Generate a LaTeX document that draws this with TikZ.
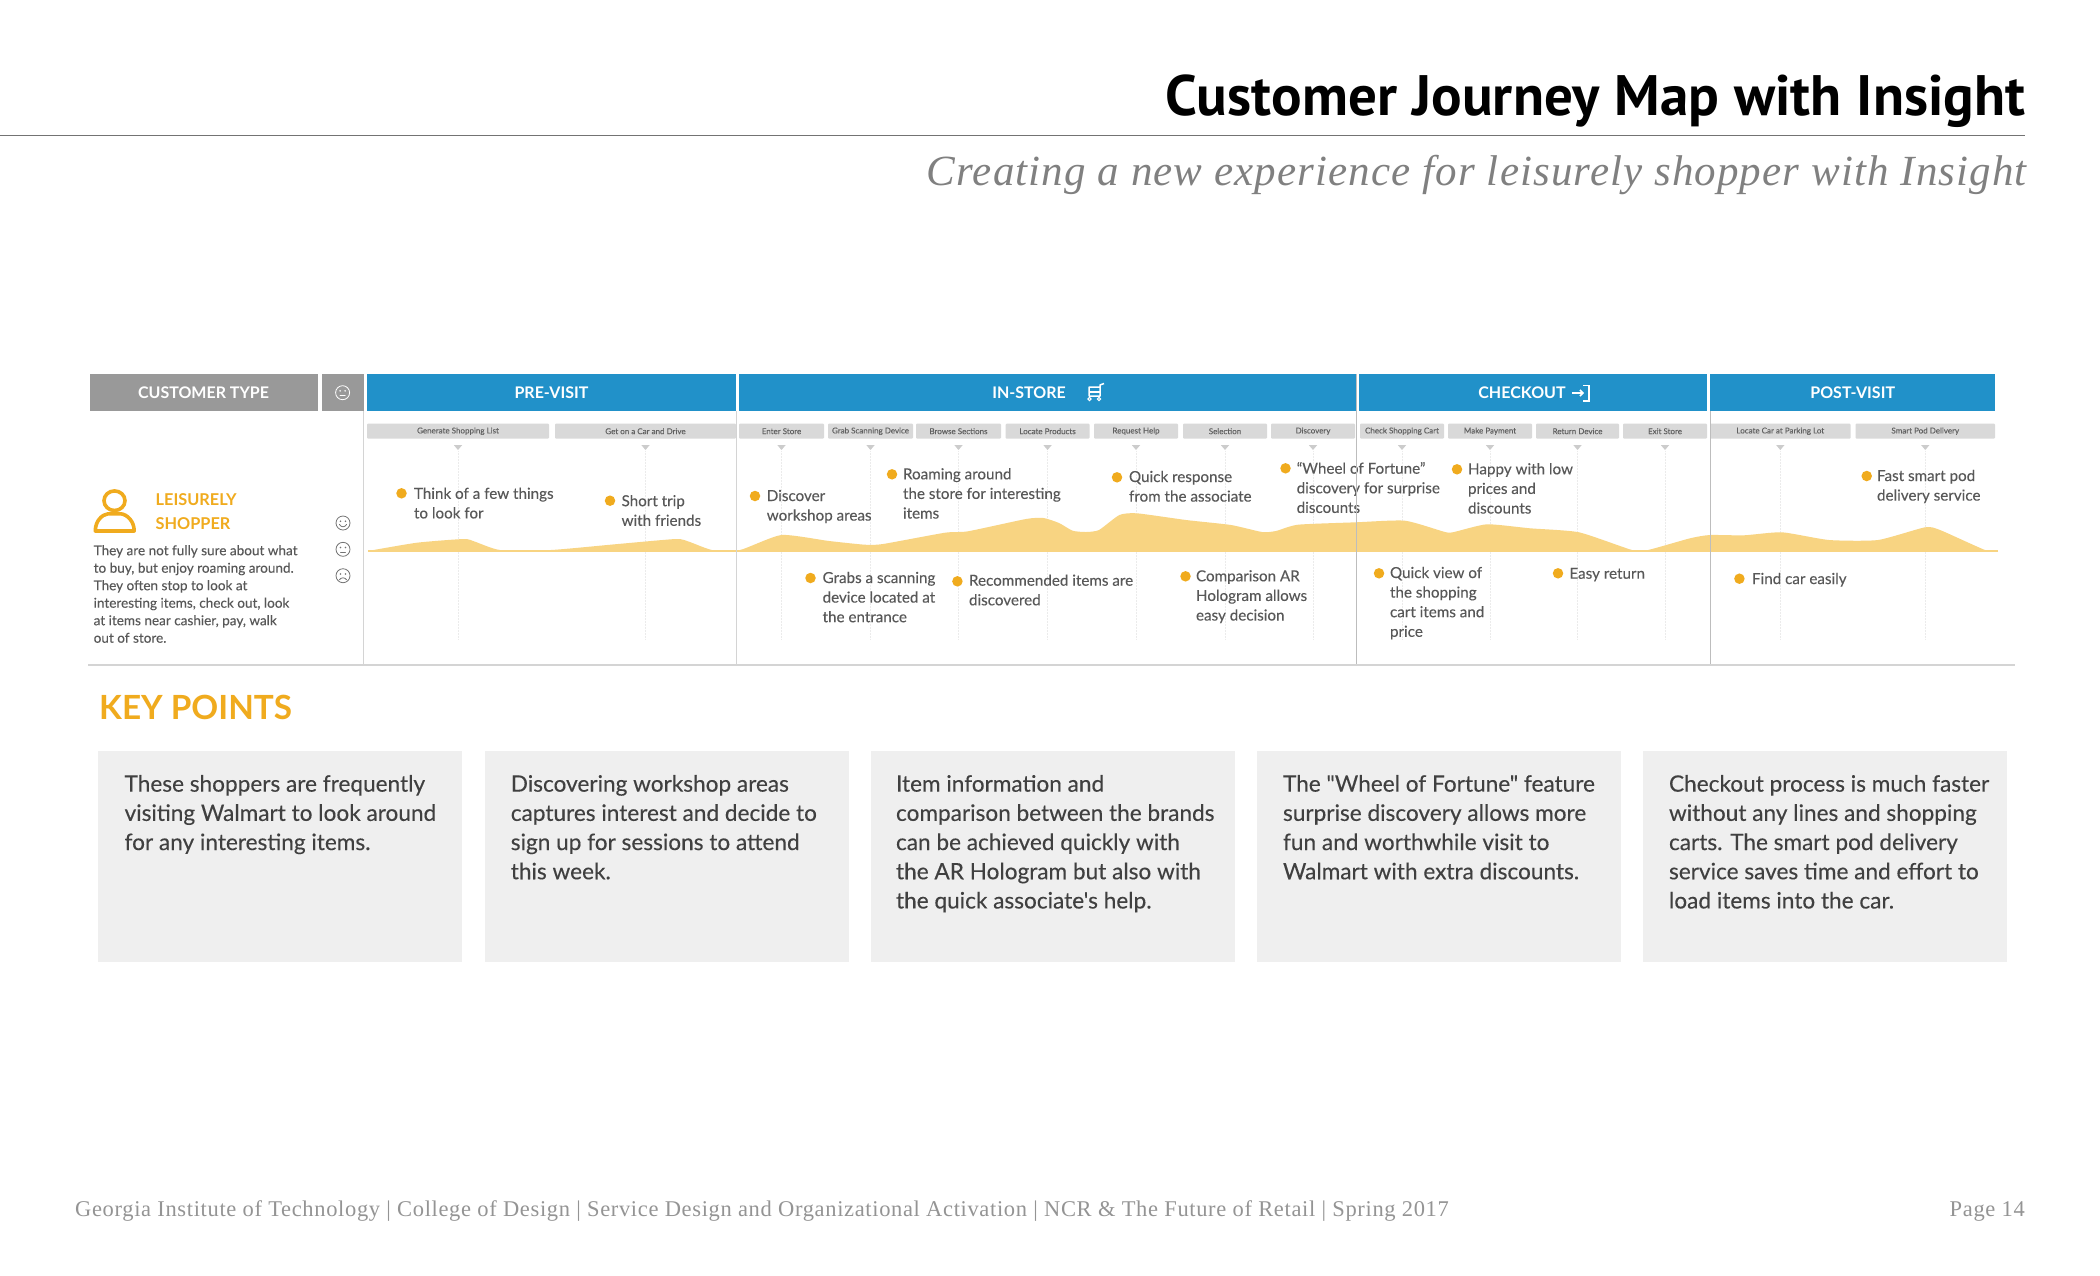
\documentclass[tikz,border=0pt]{standalone}
\usepackage{fontspec}
\usetikzlibrary{arrows.meta}
\setmainfont{Lato}
\newfontfamily\titlefont[LetterSpace=0.3]{PT Sans}
\newfontfamily\subfont[LetterSpace=2.6]{Liberation Serif}
\newfontfamily\footfont[LetterSpace=2.9]{Liberation Serif}
\newfontfamily\keyfont[FakeBold=0.25]{Lato}
\newfontfamily\itemfont[FakeBold=0.15]{Lato}
\newfontfamily\stepfont[FakeBold=0.2]{Lato}
\definecolor{jblue}{HTML}{2191C9}
\definecolor{jgrey}{HTML}{999999}
\definecolor{jstep}{HTML}{D9D9D9}
\definecolor{jorange}{HTML}{F0AB1E}
\definecolor{jtext}{HTML}{585858}
\definecolor{jcurve}{HTML}{F8D482}
\definecolor{jbox}{HTML}{EFEFEF}
\definecolor{jline}{HTML}{D4D4D4}
\definecolor{jlinedark}{HTML}{BDBDBD}
\tikzset{
  x=1pt,y=-1pt,
  band/.style={rectangle,inner sep=0,outer sep=0,text=white,font=\fontsize{16}{18}\selectfont\bfseries},
  stepbox/.style={rectangle,rounded corners=1pt,fill=jstep,inner sep=0,outer sep=0,text=black!62,font=\stepfont\fontsize{8}{9}\selectfont},
  jdot/.style={circle,fill=jorange,inner sep=0,minimum size=10.5pt},
  itemtext/.style={anchor=north west,inner sep=0,outer sep=0,align=left,text=jtext,font=\itemfont\fontsize{15.2}{19.6}\selectfont},
  keybox/.style={rectangle,fill=jbox,inner sep=0,outer sep=0,anchor=north west,minimum height=211pt,minimum width=364pt},
  keytext/.style={anchor=north west,inner sep=0,outer sep=0,align=left,text=black!75,font=\keyfont\fontsize{22.6}{29.2}\selectfont},
  face/.style={line width=.8pt,line cap=round},
}
% step box with its triangle and dotted guide
\newcommand{\jstep}[4]{%
  \pgfmathsetmacro{\jc}{(#2+#3)/2}\pgfmathsetmacro{\jw}{#3-#2}%
  \node[stepbox,minimum width=\jw pt,minimum height=15pt] (#1) at (\jc,431.2) {#4};
  \coordinate (#1t) at (\jc,445);
  \coordinate (#1e) at (\jc,640);
  \fill[black!20] ([xshift=-4.2pt]#1t) -- ([xshift=4.2pt]#1t) -- ([yshift=-5pt]#1t) -- cycle;
  \draw[black!8,densely dotted,line width=.5pt] ([yshift=-6pt]#1t) -- (#1e);
}
% item: name, bullet x,y, text x, baseline, text
\newcommand{\jitem}[6]{%
  \node[jdot] (#1d) at (#2,#3) {};
  \node[itemtext] (#1) at (#4,#5-12) {\rule{0pt}{12pt}#6};
}
% key box: name, x, text x, text
\newcommand{\jkey}[4]{%
  \node[keybox] (#1) at (#2,751) {};
  \node[keytext] (#1t) at (#3,775) {\rule{0pt}{16pt}#4};
}
\newcommand{\jface}[4]{%
  \begin{scope}[shift={(#1,#2)},#3,face]
    \draw (0,0) circle (7pt);
    \fill (-2.5,-1.8) circle (.9pt) (2.5,-1.8) circle (.9pt);
    \draw #4;
  \end{scope}
}
\begin{document}
\begin{tikzpicture}
\useasboundingbox (0,0) rectangle (2100,1275);
\fill[white] (0,0) rectangle (2100,1275);
% title
\node[anchor=base east,inner sep=0,font=\titlefont\fontsize{57}{60}\selectfont\bfseries] (title) at (2026,115) {Customer Journey Map with Insight};
\coordinate (ruleL) at (0,135.3); \coordinate (ruleR) at (2025,135.3);
\draw[black!55,line width=1.5pt] (ruleL) -- (ruleR);
\node[anchor=base east,inner sep=0,text=black!50,font=\subfont\fontsize{43}{46}\selectfont\itshape] (subtitle) at (2027,185) {Creating a new experience for leisurely shopper with Insight};
% header bands
\node[band,fill=jgrey,anchor=north west,minimum width=228pt,minimum height=37pt] (ctype) at (89.5,374) {CUSTOMER TYPE};
\node[band,fill=jgrey,anchor=north west,minimum width=41.6pt,minimum height=37pt] (cface) at (322,374) {};
\node[band,fill=jblue,anchor=north west,minimum width=369pt,minimum height=37pt] (pre) at (367,374) {PRE-VISIT};
\node[band,fill=jblue,anchor=north west,minimum width=617.5pt,minimum height=37pt] (ins) at (739,374) {};
\node[band] (inslabel) at (1029,392.5) {IN-STORE};
\node[band,fill=jblue,anchor=north west,minimum width=348pt,minimum height=37pt] (chk) at (1359,374) {};
\node[band] (chklabel) at (1522,392.5) {CHECKOUT};
\node[band,fill=jblue,anchor=north west,minimum width=284.6pt,minimum height=37pt] (post) at (1710.4,374) {POST-VISIT};
\jface{342.6}{392.7}{white}{(-2.5,2.8) -- (2.5,2.8)}
% cart icon
\draw[white,line width=1.5pt,line join=round] (1104,383.5) -- (1100,385) -- (1100,396) -- (1089,396) -- (1089,387) -- (1100,387);
\draw[white,line width=1.2pt] (1089,392) -- (1100,392);
\draw[white,line width=1.1pt] (1089.5,399) circle (1.6pt) (1099,399) circle (1.6pt);
% exit icon
\draw[white,line width=1.5pt] (1583,385.5) -- (1589,385.5) -- (1589,401) -- (1583,401);
\draw[white,line width=1.5pt,-{Straight Barb[length=3pt,width=6pt]}] (1572,393) -- (1584,393);
% steps
\jstep{s1}{367}{549}{Generate Shopping List}
\jstep{s2}{555}{736}{Get on a Car and Drive}
\jstep{s3}{739}{824}{Enter Store}
\jstep{s4}{828}{913}{Grab Scanning Device}
\jstep{s5}{916}{1001}{Browse Sections}
\jstep{s6}{1005.6}{1089.5}{Locate Products}
\jstep{s7}{1094}{1178}{Request Help}
\jstep{s8}{1183}{1267}{Selection}
\jstep{s9}{1271}{1355}{Discovery}
\jstep{s10}{1360}{1444}{Check Shopping Cart}
\jstep{s11}{1448}{1532}{Make Payment}
\jstep{s12}{1536}{1619}{Return Device}
\jstep{s13}{1623}{1707}{Exit Store}
\jstep{s14}{1710}{1850.6}{Locate Car at Parking Lot}
\jstep{s15}{1855.5}{1995}{Smart Pod Delivery}
% emotion curve
\fill[jcurve] plot[smooth,tension=.35] coordinates {(368,551) (417,542.7) (464,539) (475,541.7) (500,550) (551,550) (618,544) (676,539) (689,541.7) (712,550) (740,550) (781.5,535) (829,541) (865,544.7) (883,544) (945,532.7) (968,531.3) (1026,519) (1043.5,518) (1059,523) (1072.6,530.7) (1086,532) (1099,530) (1119.4,515) (1137,513.3) (1186,520) (1231,525) (1262,532) (1276,531) (1298,524.7) (1356,522.3) (1405,520.7) (1445,532) (1454,532) (1487,524.3) (1530,528.3) (1579,532.3) (1632,550) (1648,550) (1690,538.3) (1710,535) (1744,535.3) (1782,532.3) (1829,540) (1878,540) (1925,527.3) (1940,530) (1985,550) (1998,551)} -- cycle;
\coordinate (curveL) at (368,551); \coordinate (curveR) at (1998,551);
\draw[jcurve,line width=1.6pt] (curveL) -- (curveR);
% persona
\draw[jorange,line width=3.6pt] (114.5,500.7) ellipse (10.5pt and 9.8pt);
\draw[jorange,line width=3.6pt,line join=round] (95.3,531) .. controls (95.3,521) and (102,514.5) .. (108,513.8) -- (121,513.8) .. controls (127,514.5) and (134.2,521) .. (134.2,531) -- cycle;
\node[anchor=base west,inner sep=0,text=jorange,font=\fontsize{16.3}{24}\selectfont\bfseries] (p1) at (155.5,505) {LEISURELY};
\node[anchor=base west,inner sep=0,text=jorange,font=\fontsize{16.3}{24}\selectfont\bfseries] (p2) at (155.5,529) {SHOPPER};
\node[anchor=north west,inner sep=0,align=left,text=jtext,font=\itemfont\fontsize{13.55}{17.5}\selectfont] (pdesc) at (93.5,543) {\rule{0pt}{12pt}They are not fully sure about what\\to buy, but enjoy roaming around.\\They often stop to look at\\interesting items, check out, look\\at items near cashier, pay, walk\\out of store.};
\jface{343}{523}{black!55}{(-3.5,1.5) .. controls (-2,4.5) and (2,4.5) .. (3.5,1.5)}
\jface{343}{549.3}{black!55}{(-2.5,3) -- (2.5,3)}
\jface{343}{575.7}{black!55}{(-3.5,4) .. controls (-2,1.5) and (2,1.5) .. (3.5,4)}
% items
\jitem{i1}{401.5}{493.3}{414}{498.8}{Think of a few things\\to look for}
\jitem{i2}{610}{500.7}{621.6}{506.2}{Short trip\\with friends}
\jitem{i3}{755}{496}{766.8}{501}{Discover\\workshop areas}
\jitem{i4}{810.5}{578}{822.6}{583}{Grabs a scanning\\device located at\\the entrance}
\jitem{i5}{892}{474.3}{903}{479.3}{Roaming around\\the store for interesting\\items}
\jitem{i6}{957.4}{581.3}{969}{585.7}{Recommended items are\\discovered}
\jitem{i7}{1117}{477.3}{1129}{482}{Quick response\\from the associate}
\jitem{i8}{1185.5}{576.3}{1196}{581.3}{Comparison AR\\Hologram allows\\easy decision}
\jitem{i9}{1285.5}{468.3}{1296.7}{473.7}{“Wheel of Fortune”\\discovery for surprise\\discounts}
\jitem{i10}{1457}{469.3}{1468}{474.3}{Happy with low\\prices and\\discounts}
\jitem{i11}{1379}{573.3}{1390}{578}{Quick view of\\the shopping\\cart items and\\price}
\jitem{i12}{1558}{573.3}{1569.4}{578.7}{Easy return}
\jitem{i13}{1739.4}{578.7}{1752}{584}{Find car easily}
\jitem{i14}{1866.7}{476}{1877}{481}{Fast smart pod\\delivery service}
% separators
\coordinate (v1a) at (363.5,411); \coordinate (v1b) at (363.5,664);
\coordinate (v2a) at (736.5,411); \coordinate (v2b) at (736.5,664);
\coordinate (v3a) at (1356.5,374); \coordinate (v3b) at (1356.5,664);
\coordinate (v4a) at (1710,411); \coordinate (v4b) at (1710,664);
\coordinate (hl) at (88,665); \coordinate (hr) at (2015,665);
\draw[jline,line width=1.8pt] (v1a) -- (v1b);
\draw[jline,line width=1.8pt] (v2a) -- (v2b);
\draw[jlinedark,line width=.9pt] (v3a) -- (v3b);
\draw[jlinedark,line width=.9pt] (v4a) -- (v4b);
\draw[jline,line width=1.4pt] (hl) -- (hr);
% key points
\node[anchor=base west,inner sep=0,text=jorange,font=\fontsize{33.3}{36}\selectfont\bfseries] (kp) at (99,719) {KEY POINTS};
\jkey{k1}{98}{124.6}{These shoppers are frequently\\visiting Walmart to look around\\for any interesting items.}
\jkey{k2}{485}{510.8}{Discovering workshop areas\\captures interest and decide to\\sign up for sessions to attend\\this week.}
\jkey{k3}{870.5}{896}{Item information and\\comparison between the brands\\can be achieved quickly with\\the AR Hologram but also with\\the quick associate's help.}
\jkey{k4}{1257}{1283}{The "Wheel of Fortune" feature\\surprise discovery allows more\\fun and worthwhile visit to\\Walmart with extra discounts.}
\jkey{k5}{1643}{1669}{Checkout process is much faster\\without any lines and shopping\\carts. The smart pod delivery\\service saves time and effort to\\load items into the car.}
% footer
\node[anchor=base west,inner sep=0,text=black!42,font=\footfont\fontsize{22.5}{26}\selectfont] (foot) at (75,1216) {Georgia Institute of Technology | College of Design | Service Design and Organizational Activation | NCR \& The Future of Retail | Spring 2017};
\node[anchor=base east,inner sep=0,text=black!42,font=\footfont\fontsize{22.5}{26}\selectfont] (page) at (2025,1216) {Page 14};
\end{tikzpicture}
\end{document}
